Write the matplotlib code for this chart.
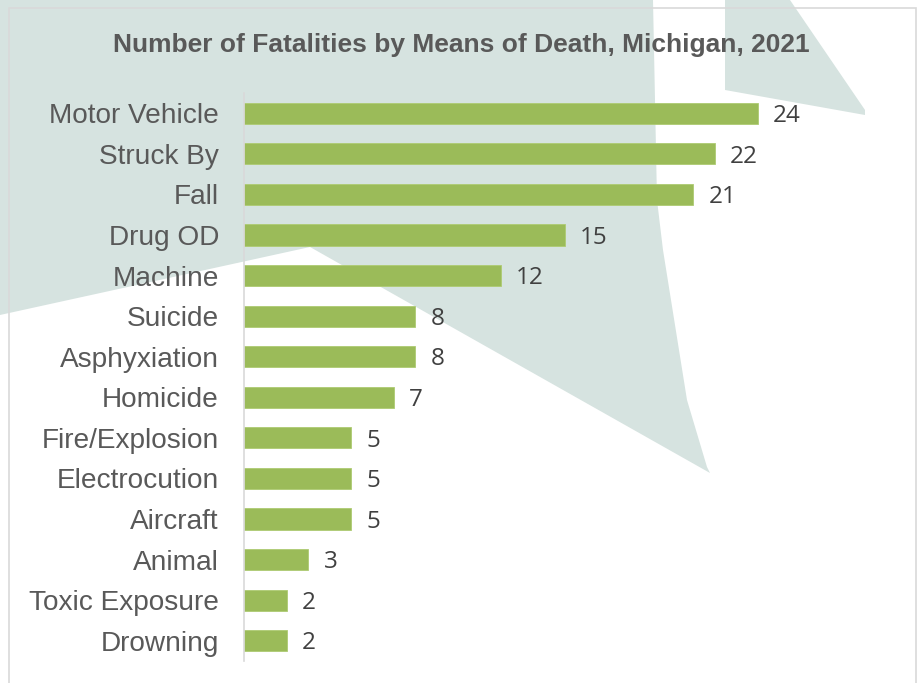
import matplotlib
matplotlib.use("Agg")
import matplotlib.pyplot as plt
from matplotlib.patches import Polygon, Rectangle

W, H = 920, 683

categories = ["Motor Vehicle", "Struck By", "Fall", "Drug OD", "Machine", "Suicide",
              "Asphyxiation", "Homicide", "Fire/Explosion", "Electrocution", "Aircraft",
              "Animal", "Toxic Exposure", "Drowning"]
fatalities = [24, 22, 21, 15, 12, 8, 8, 7, 5, 5, 5, 3, 2, 2]

TITLE = "Number of Fatalities by Means of Death, Michigan, 2021"
BAR_COLOR = "#9bbb59"
SHADE = "#d6e3e0"


def px_poly(points, **kw):
    # pixel coords (top-left origin) -> figure fraction
    pts = [(x / W, 1 - y / H) for x, y in points]
    return Polygon(pts, closed=True, transform=fig.transFigure, **kw)


fig = plt.figure(figsize=(W / 100, H / 100), dpi=100)
fig.patch.set_facecolor("white")

# faint watermark shapes behind the chart
fig.add_artist(px_poly([(0, 0), (653, 0), (657, 200), (663, 250), (687, 400),
                        (707, 467), (710, 473), (310, 247), (0, 315)],
                       facecolor=SHADE, edgecolor="none", zorder=-10))
fig.add_artist(px_poly([(725, 0), (790, 0), (865, 110), (865, 115), (725, 90)],
                       facecolor=SHADE, edgecolor="none", zorder=-10))
# chart border
fig.add_artist(Rectangle((9 / W, -0.05), (916 - 9) / W, 1.05 - 8 / H,
                         transform=fig.transFigure, facecolor="none",
                         edgecolor="#d9d9d9", linewidth=1.2, zorder=-5))

ax = fig.add_axes([244 / W, 1 - 661 / H, 642 / W, (661 - 93) / H])
ax.set_facecolor("none")

y = list(range(len(categories)))
bars = ax.barh(y, fatalities, height=0.52, color=BAR_COLOR,
               edgecolor="#aecb72", linewidth=0.6)
ax.set_ylim(len(categories) - 0.5, -0.5)
ax.set_xlim(0, 30)

for yi, v in zip(y, fatalities):
    ax.annotate(str(v), (v, yi), xytext=(11, -2), textcoords="offset points",
                ha="left", va="center", fontsize=17.5, color="#404040",
                family="Open Sans")

ax.set_yticks(y)
ax.set_yticklabels(categories, fontsize=20.2, color="#595959", family="Liberation Sans")
ax.tick_params(axis="y", length=0, pad=18)
ax.set_xticks([])
for side in ["top", "right", "bottom"]:
    ax.spines[side].set_visible(False)
ax.spines["left"].set_color("#d9d9d9")
ax.spines["left"].set_linewidth(1.2)

fig.text(461 / W, 1 - 45 / H, TITLE, ha="center", va="center", fontsize=19,
         fontweight="bold", color="#595959", family="Liberation Sans")

plt.savefig("out.png", dpi=100, facecolor=fig.get_facecolor())
